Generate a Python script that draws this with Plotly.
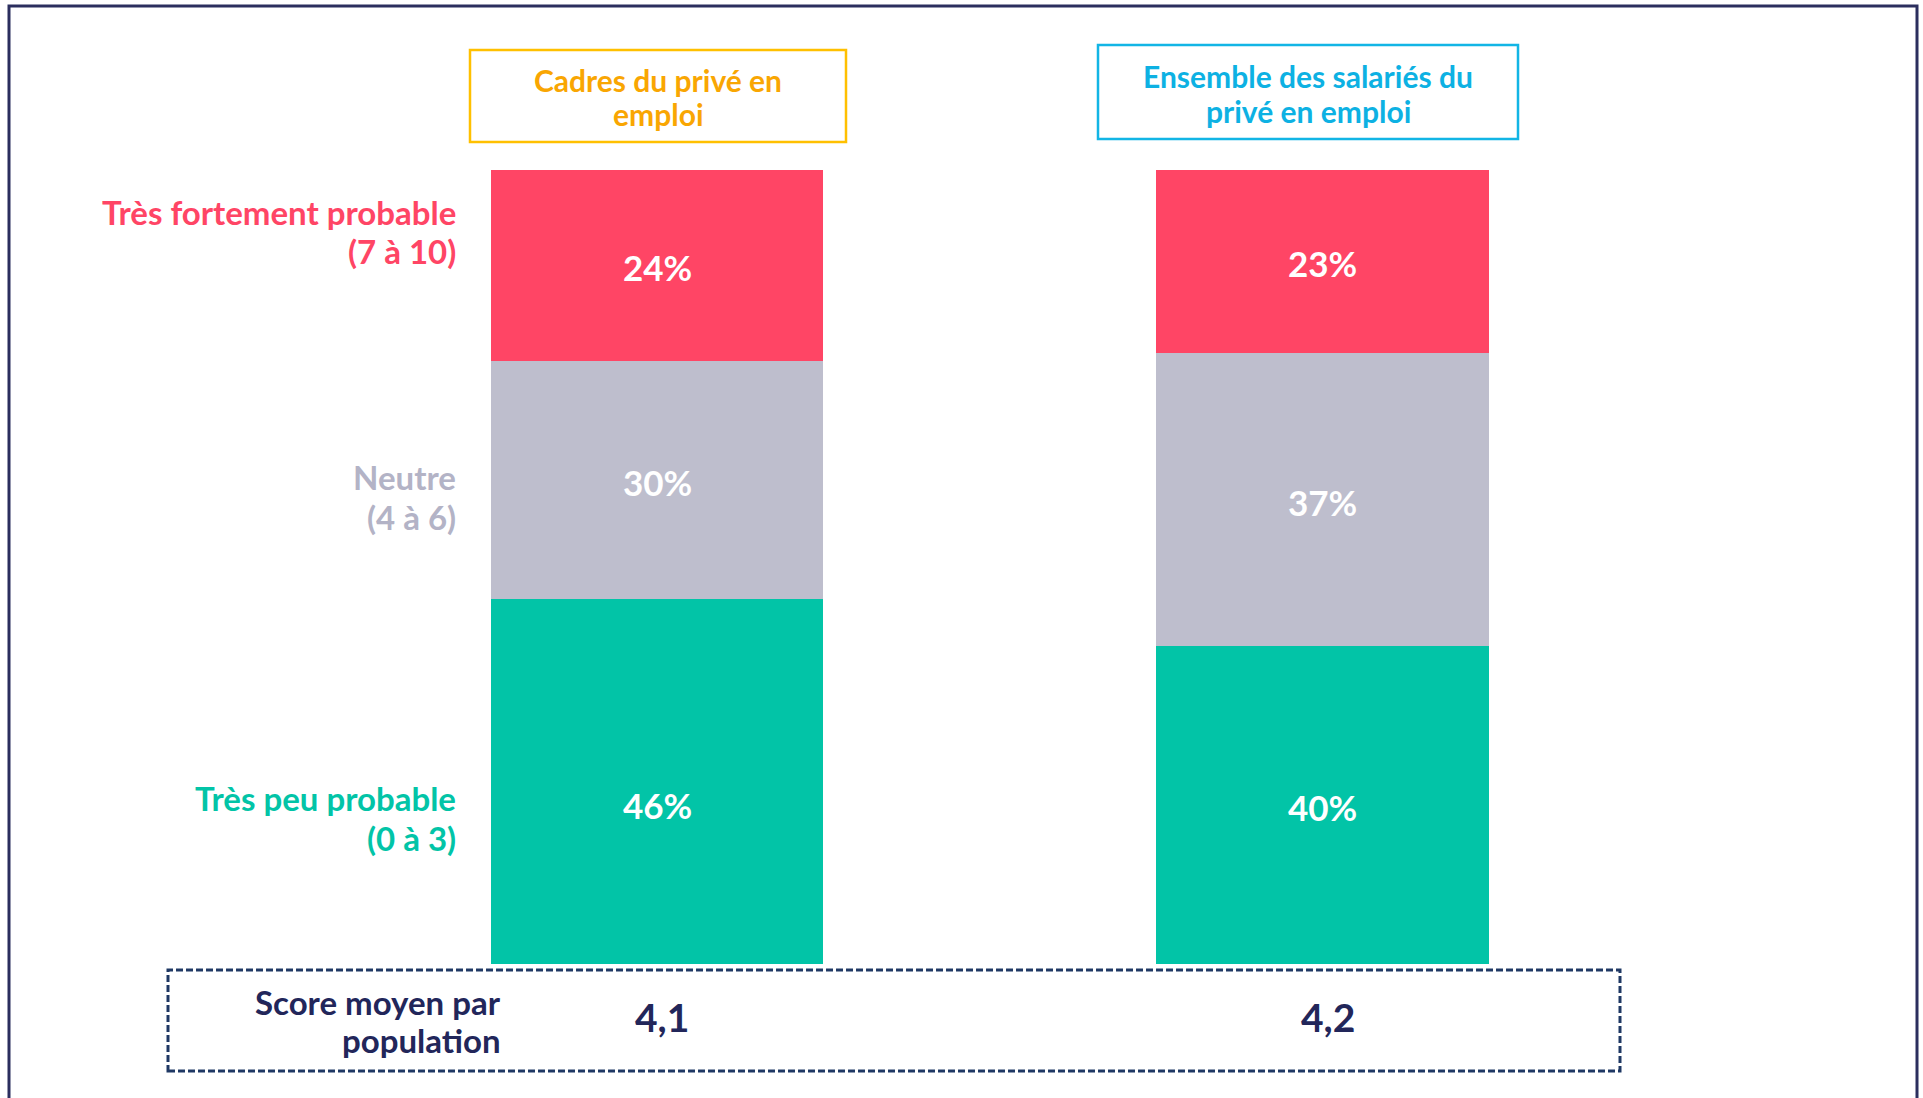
import plotly.graph_objects as go

# ---- data ----
groups = ["Cadres du privé en emploi", "Ensemble des salariés du privé en emploi"]
group_lines = [["Cadres du privé en", "emploi"], ["Ensemble des salariés du", "privé en emploi"]]
categories = ["Très peu probable (0 à 3)", "Neutre (4 à 6)", "Très fortement probable (7 à 10)"]
cat_lines = [["Très peu probable", "(0 à 3)"], ["Neutre", "(4 à 6)"], ["Très fortement probable", "(7 à 10)"]]
peu_probable = [46, 40]
neutre = [30, 37]
fortement_probable = [24, 23]
scores = [4.1, 4.2]
score_lines = ["Score moyen par", "population"]

# ---- style ----
W, H = 1923, 1098
FONT = "Lato"
seg_colors = ["#02C4A7", "#BEBECD", "#FF4565"]
cat_text_colors = ["#02C4A7", "#B3B3C6", "#FF4565"]
navy = "#22265A"

def px(x):
    return x / W

def py(y):
    return 1 - y / H

x_pos = [0, 1]
# pixel mapping: x=0 -> 657px, x=1 -> 1322.5px ; y=0 -> 964px, y=100 -> 170px
ux = 665.5
x0 = -657 / ux
x1 = x0 + W / ux
uy = (964 - 170) / 100
y0 = -(H - 964) / uy
y1 = 100 + 170 / uy

series = [peu_probable, neutre, fortement_probable]

fig = go.Figure()
for vals, col, name in zip(series, seg_colors, categories):
    fig.add_trace(go.Bar(
        x=x_pos, y=vals, name=name, width=0.5,
        marker=dict(color=col, line=dict(width=0)),
        hoverinfo="skip",
    ))

shapes = []
annotations = []

def add_lines(lines, xpix, ypix_first, spacing, anchor, size, color):
    for i, ln in enumerate(lines):
        annotations.append(dict(xref="paper", yref="paper", x=px(xpix),
                                y=py(ypix_first + i * spacing),
                                text=f"<b>{ln}</b>", showarrow=False,
                                xanchor=anchor, yanchor="middle",
                                font=dict(family=FONT, size=size, color=color)))

# percentage labels (centered in each segment)
label_yshift = [[-22, 0], [0, 0], [0, 0]]
for j in range(len(x_pos)):
    base = 0
    for k, vals in enumerate(series):
        v = vals[j]
        annotations.append(dict(xref="x", yref="y", x=x_pos[j], y=base + v / 2,
                                yshift=label_yshift[k][j] - 2,
                                text=f"<b>{v}%</b>", showarrow=False,
                                xanchor="center", yanchor="middle",
                                font=dict(family=FONT, size=35, color="white")))
        base += v

# outer frame
shapes.append(dict(type="rect", xref="paper", yref="paper",
                   x0=px(9), x1=px(1917), y0=py(1120), y1=py(6),
                   line=dict(color="#2B2E5E", width=3)))

# header boxes
header_boxes = [(470, 846, 50, 142, "#FFC000", "#F9A602", 80),
                (1098, 1518, 45, 139, "#12B5E5", "#0DB1E3", 76)]
for (bx0, bx1, by0, by1, lc, tc, ty), lines in zip(header_boxes, group_lines):
    shapes.append(dict(type="rect", xref="paper", yref="paper",
                       x0=px(bx0), x1=px(bx1), y0=py(by1), y1=py(by0),
                       line=dict(color=lc, width=2.5)))
    add_lines(lines, (bx0 + bx1) / 2, ty, 34.5, "center", 30, tc)

# category labels on the left
cat_y = [798, 477, 212]
for lines, col, yy in zip(cat_lines, cat_text_colors, cat_y):
    add_lines(lines, 458, yy, 39.5, "right", 33, col)

# score box
shapes.append(dict(type="rect", xref="paper", yref="paper",
                   x0=px(168), x1=px(1620), y0=py(1071), y1=py(970),
                   line=dict(color="#1F3864", width=3, dash="7px,3px")))
add_lines(score_lines, 503, 1002, 38, "right", 33, navy)
for xv, s in zip(x_pos, scores):
    annotations.append(dict(xref="x", yref="paper", x=xv + 0.008, y=py(1017),
                            text=f"<b>{str(s).replace('.', ',')}</b>", showarrow=False,
                            xanchor="center", yanchor="middle",
                            font=dict(family=FONT, size=39, color=navy)))

fig.update_layout(
    width=W, height=H, barmode="stack", showlegend=False,
    margin=dict(l=0, r=0, t=0, b=0),
    paper_bgcolor="white", plot_bgcolor="white",
    xaxis=dict(range=[x0, x1], visible=False, fixedrange=True),
    yaxis=dict(range=[y0, y1], visible=False, fixedrange=True),
    shapes=shapes, annotations=annotations,
)

fig.write_html("out.html", config={"displayModeBar": False},
               post_script="document.body.style.margin='0';document.body.style.overflow='hidden';")
